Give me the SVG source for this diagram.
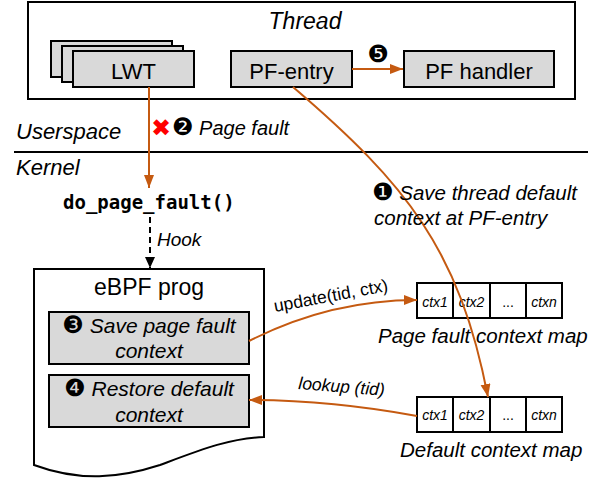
<svg xmlns="http://www.w3.org/2000/svg" width="603" height="479" viewBox="0 0 603 479">
<defs>
<marker id="ao" markerUnits="userSpaceOnUse" markerWidth="14" markerHeight="11" refX="13" refY="5" orient="auto">
<path d="M0,0 L13,5 L0,10 z" fill="#C55A11"/>
</marker>
<marker id="ab" markerUnits="userSpaceOnUse" markerWidth="12" markerHeight="11" refX="11" refY="5" orient="auto">
<path d="M0,0 L11,5 L0,10 z" fill="#000"/>
</marker>
</defs>
<style>
text{font-family:"Liberation Sans","DejaVu Sans",sans-serif;fill:#000}
.it{font-style:italic}
.box{fill:#D9D9D9;stroke:#000;stroke-width:2}
.wb{fill:#fff;stroke:#000;stroke-width:2}
.cell{fill:#fff;stroke:#000;stroke-width:2}
.or{fill:none;stroke:#C55A11;stroke-width:2}
.mid{text-anchor:middle}
.ctx{font-size:14px;font-style:italic;text-anchor:middle}
.num{font-family:"DejaVu Sans",sans-serif;font-style:normal}
</style>
<g id="thread">
<rect x="28" y="2" width="547" height="97" fill="#fff" stroke="#000" stroke-width="2"/>
<text class="it mid" x="305" y="29" font-size="23">Thread</text>
</g>
<g id="lwt">
<rect class="box" x="51" y="41" width="121" height="36"/>
<rect class="box" x="62" y="46" width="121" height="36"/>
<rect class="box" x="73" y="51" width="121" height="36"/>
<text class="mid" x="133.5" y="79" font-size="22">LWT</text>
</g>
<g id="pf-entry">
<rect class="box" x="231" y="51" width="121" height="36"/>
<text class="mid" x="291.5" y="79" font-size="22">PF-entry</text>
</g>
<g id="pf-handler">
<rect class="box" x="404" y="51" width="150" height="36"/>
<text class="mid" x="479" y="79" font-size="22">PF handler</text>
</g>
<g id="separator">
<line x1="14" y1="152" x2="588" y2="152" stroke="#000" stroke-width="2"/>
<text class="it" x="16" y="139" font-size="22">Userspace</text>
<text class="it" x="16" y="175" font-size="22">Kernel</text>
</g>
<g id="do-page-fault">
<text x="63" y="209" font-size="19" font-weight="bold" style="font-family:'DejaVu Sans Mono','Liberation Mono',monospace">do_page_fault()</text>
</g>
<g id="ebpf">
<path class="wb" d="M34,269 H264 V437 C230,438 200,450 160,465 C120,478 80,482 34,465 Z"/>
<text class="mid" x="149" y="295" font-size="23">eBPF prog</text>
</g>
<g id="save-pf">
<rect class="box" x="49" y="312" width="200" height="52"/>
<text class="it mid" x="149" y="333" font-size="21"><tspan class="num" font-size="24">❸</tspan> Save page fault</text>
<text class="it mid" x="149" y="358" font-size="21">context</text>
</g>
<g id="restore">
<rect class="box" x="49" y="375" width="200" height="52"/>
<text class="it mid" x="149" y="396" font-size="21"><tspan class="num" font-size="24">❹</tspan> Restore default</text>
<text class="it mid" x="149" y="422" font-size="21">context</text>
</g>
<g id="pf-map">
<rect class="cell" x="417" y="283" width="36" height="35"/>
<rect class="cell" x="453" y="283" width="37" height="35"/>
<rect class="cell" x="490" y="283" width="36" height="35"/>
<rect class="cell" x="526" y="283" width="36" height="35"/>
<text class="ctx" x="435" y="307">ctx1</text>
<text class="ctx" x="471.5" y="307">ctx2</text>
<text class="mid" x="508" y="307" font-size="14">...</text>
<text class="ctx" x="544" y="307">ctxn</text>
<text class="it" x="378" y="343" font-size="20.5">Page fault context map</text>
</g>
<g id="default-map">
<rect class="cell" x="417" y="397" width="36" height="35"/>
<rect class="cell" x="453" y="397" width="37" height="35"/>
<rect class="cell" x="490" y="397" width="36" height="35"/>
<rect class="cell" x="526" y="397" width="36" height="35"/>
<text class="ctx" x="435" y="420">ctx1</text>
<text class="ctx" x="471.5" y="420">ctx2</text>
<text class="mid" x="508" y="420" font-size="14">...</text>
<text class="ctx" x="544" y="420">ctxn</text>
<text class="it" x="400" y="457" font-size="20.5">Default context map</text>
</g>
<g id="connectors">
<line class="or" x1="352" y1="69" x2="403" y2="69" marker-end="url(#ao)"/>
<text class="mid num" x="378" y="62" font-size="24">❺</text>
<line class="or" x1="149" y1="87" x2="149" y2="188" marker-end="url(#ao)"/>
<text class="num" x="151" y="136" font-size="24" style="fill:#FF0000">✖</text>
<text class="it" x="172" y="135" font-size="20"><tspan class="num" font-size="24">❷</tspan> Page fault</text>
<line x1="150" y1="217" x2="150" y2="268" stroke="#000" stroke-width="2" stroke-dasharray="6,4" marker-end="url(#ab)"/>
<text class="it" x="157" y="246" font-size="19">Hook</text>
<path class="or" d="M293,87 C407,184.5 459.5,250 488,397" marker-end="url(#ao)"/>
<text class="it" x="372" y="200" font-size="20.5"><tspan class="num" font-size="24">❶</tspan> Save thread default</text>
<text class="it" x="374" y="225" font-size="20.5">context at PF-entry</text>
<path class="or" d="M249,341 Q330,300 417,300" marker-end="url(#ao)"/>
<text transform="translate(275,312) rotate(-10.5)" font-size="17.5">update(tid, ctx)</text>
<path class="or" d="M417,416 Q330,400 249,400" marker-end="url(#ao)"/>
<text class="it" transform="translate(298,389) rotate(4.5)" font-size="17.5">lookup (tid)</text>
</g>
</svg>
